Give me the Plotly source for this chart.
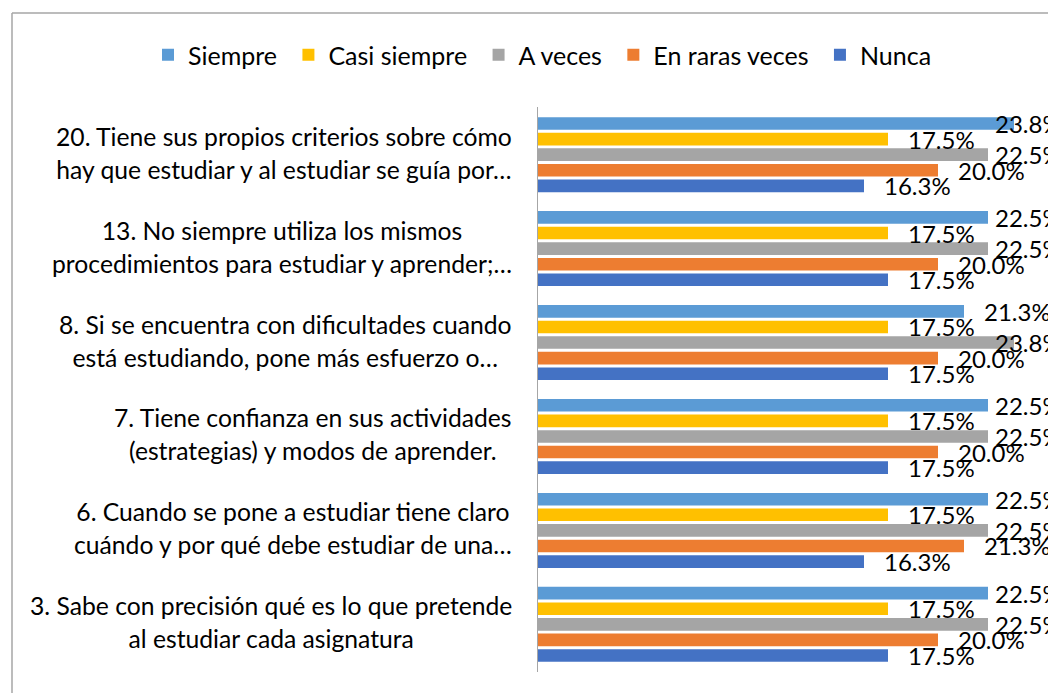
import plotly.graph_objects as go

categories = ["Ítem 20", "Ítem 13", "Ítem 8", "Ítem 7", "Ítem 6", "Ítem 3"]
label_line1 = [
    "20. Tiene sus propios criterios sobre cómo",
    "13. No siempre utiliza los mismos",
    "8. Si se encuentra con dificultades cuando",
    "7. Tiene confianza en sus actividades",
    "6. Cuando se pone a estudiar tiene claro",
    "3. Sabe con precisión qué es lo que pretende",
]
label_line2 = [
    "hay que estudiar y al estudiar se guía por…",
    "procedimientos para estudiar y aprender;…",
    "está estudiando, pone más esfuerzo o…",
    "(estrategias) y modos de aprender.",
    "cuándo y por qué debe estudiar de una…",
    "al estudiar cada asignatura",
]
series_names = ["Siempre", "Casi siempre", "A veces", "En raras veces", "Nunca"]
siempre = [23.8, 22.5, 21.3, 22.5, 22.5, 22.5]
casi_siempre = [17.5, 17.5, 17.5, 17.5, 17.5, 17.5]
a_veces = [22.5, 22.5, 23.8, 22.5, 22.5, 22.5]
raras_veces = [20.0, 20.0, 20.0, 20.0, 21.3, 20.0]
nunca = [16.3, 17.5, 17.5, 17.5, 16.3, 17.5]
series_values = [siempre, casi_siempre, a_veces, raras_veces, nunca]
colors = ["#5B9BD5", "#FFC000", "#A5A5A5", "#ED7D31", "#4472C4"]

FONT = "Lato"
BARGAP = 0.17
BARGROUPGAP = 0.19
X_MAX = 25.9
LABEL_CAP = 21.85

# page body has an 8px margin; figure sized to fill the rest of the window
W, H = 1048, 685
ML, MT, MB, MR = 530, 99, 21, 0
PW, PH = W - ML - MR, H - MT - MB

fig = go.Figure()
for name, vals, col in zip(series_names, series_values, colors):
    fig.add_trace(go.Bar(
        y=categories, x=vals, name=name + "\u00a0", orientation="h",
        marker=dict(color=col, line=dict(width=0)),
    ))

annotations = []
n = len(series_names)
slot = (1 - BARGAP) / n
for si, vals in enumerate(series_values):
    off = -(1 - BARGAP) / 2 + slot * (si + 0.5)
    for ci, v in enumerate(vals):
        annotations.append(dict(
            x=min(v, LABEL_CAP), y=ci + off, xref="x", yref="y",
            text=f"{v:.1f}%", showarrow=False, xanchor="left", yanchor="middle",
            xshift=18, font=dict(family=FONT, size=24, color="#000000"),
        ))

clear = "rgba(0,0,0,0)"
for ci, cat in enumerate(categories):
    l1, l2 = label_line1[ci], label_line2[ci]
    annotations.append(dict(
        x=0, y=ci, xref="x", yref="y", xanchor="right", yanchor="middle", align="center",
        text=f"{l1}<br><span style='color:{clear}'>{l2}</span>", showarrow=False,
        xshift=-24, yshift=2.5, font=dict(family=FONT, size=24.7, color="#000000"),
    ))
    annotations.append(dict(
        x=0, y=ci, xref="x", yref="y", xanchor="right", yanchor="middle", align="center",
        text=f"<span style='color:{clear}'>{l1}</span><br>{l2}", showarrow=False,
        xshift=-24, yshift=1.5, font=dict(family=FONT, size=24.7, color="#000000"),
    ))

bx = (4 - ML) / PW
by = 1 + (MT - 5) / PH

fig.update_layout(
    width=W, height=H,
    margin=dict(l=ML, r=MR, t=MT, b=MB, pad=0),
    paper_bgcolor="white", plot_bgcolor="white",
    barmode="group", bargap=BARGAP, bargroupgap=BARGROUPGAP,
    showlegend=True,
    legend=dict(orientation="h", x=(140 - ML) / PW, xanchor="left",
                y=1 + (MT - 47) / PH, yanchor="middle",
                bgcolor="rgba(0,0,0,0)",
                font=dict(family=FONT, size=25, color="#000000"), traceorder="normal",
                itemsizing="constant"),
    annotations=annotations,
    xaxis=dict(range=[0, X_MAX], showgrid=False, zeroline=False, showticklabels=False,
               showline=False, ticks=""),
    yaxis=dict(type="category", autorange="reversed", showticklabels=False, showgrid=False,
               zeroline=False, showline=True, linecolor="#A6A6A6", linewidth=1, ticks=""),
    shapes=[
        dict(type="line", xref="paper", yref="paper", x0=bx, x1=1.1, y0=by, y1=by,
             line=dict(color="#A6A6A6", width=1.5)),
        dict(type="line", xref="paper", yref="paper", x0=bx, x1=bx, y0=by, y1=-0.2,
             line=dict(color="#A6A6A6", width=1.5)),
    ],
)

fig.write_html("out.html")
